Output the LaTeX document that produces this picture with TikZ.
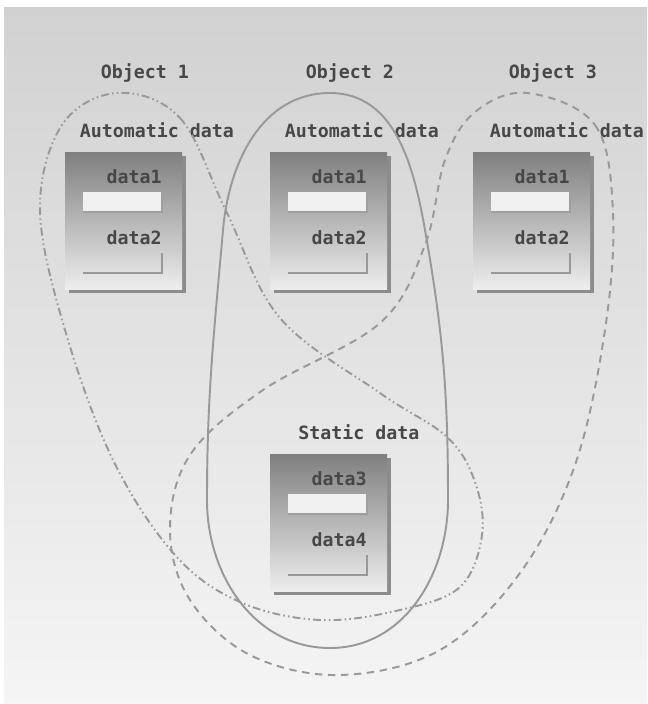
\documentclass[tikz,border=0pt]{standalone}
\usepackage{fontspec}
\setmonofont{DejaVu Sans Mono}
\usepackage{tikz}
\usetikzlibrary{positioning}
\usepackage{xcolor}
\tikzset{
  lbl/.style={font=\ttfamily\bfseries\fontsize{10.4}{12}\selectfont, text=black!72, inner sep=0pt},
  loopline/.style={black!40, line width=1.1pt},
  dashdotdot/.style={loopline, dash pattern=on 4.5pt off 1.8pt on 0.9pt off 1.8pt on 0.9pt off 1.8pt},
  dashline/.style={loopline, dash pattern=on 4.2pt off 3.2pt}
}
\newcommand{\memblock}[4]{%
  \begin{scope}[shift={#1}]
    \fill[black!45] (4,4) rectangle (121,141);
    \shade[top color=black!50, middle color=black!22, bottom color=black!7] (0,0) rectangle (117,137);
    \fill[black!6] (18,40) rectangle (97,60);
    \draw[black!38, line width=0.8pt] (18,60) -- (97,60) -- (97,40);
    \draw[black!40, line width=0.8pt] (18,121) -- (97,121) -- (97,101);
    \node[lbl, anchor=east] (#2a) at (97,25) {#3};
    \node[lbl, anchor=east] (#2b) at (97,86) {#4};
  \end{scope}}

\begin{document}
\begin{tikzpicture}[x=0.02cm, y=-0.02cm]
    \useasboundingbox (0,0) rectangle (647,704);
    \fill[white] (0,0) rectangle (647,704);
    \shade[top color=black!18, bottom color=black!4] (4,7) rectangle (647,704);

    \memblock{(65,152)}{auto1}{data1}{data2}
    \memblock{(270,152)}{auto2}{data1}{data2}
    \memblock{(473,152)}{auto3}{data1}{data2}
    \memblock{(270,454)}{stat}{data3}{data4}

    \node[lbl] (obj1) at (145,73) {Object 1};
    \node[lbl] (obj2) at (350,73) {Object 2};
    \node[lbl] (obj3) at (553,73) {Object 3};
    \foreach \i/\x in {1/157,2/362,3/567}
        \node[lbl] (autolbl\i) at (\x,130) {Automatic data};
    \node[lbl] (statlbl) at (359,432) {Static data};

    \draw[dashdotdot] plot[smooth cycle, tension=0.6] coordinates {
        (117,93) (180,118) (227,213) (280,318) (380,393) (447,437) (475,482)
        (482,535) (460,587) (400,610) (320,620) (240,602) (175,555) (113,460)
        (65,330) (40,210) (62,125)};
    \draw[loopline] (330,93) to[out=0, in=100] (425,230) to[out=-80, in=90] (448,500)
        to[out=-90, in=0] (330,648) to[out=180, in=-90] (207,500)
        to[out=90, in=-95] (223,230) to[out=85, in=180] cycle;
    \draw[dashline] plot[smooth cycle, tension=0.6] coordinates {
        (527,93) (595,125) (613,213) (605,330) (575,465) (520,573) (440,650)
        (340,675) (250,655) (190,600) (170,530) (190,455) (263,390) (380,323)
        (425,245) (445,160) (475,112)};
\end{tikzpicture}
\end{document}
